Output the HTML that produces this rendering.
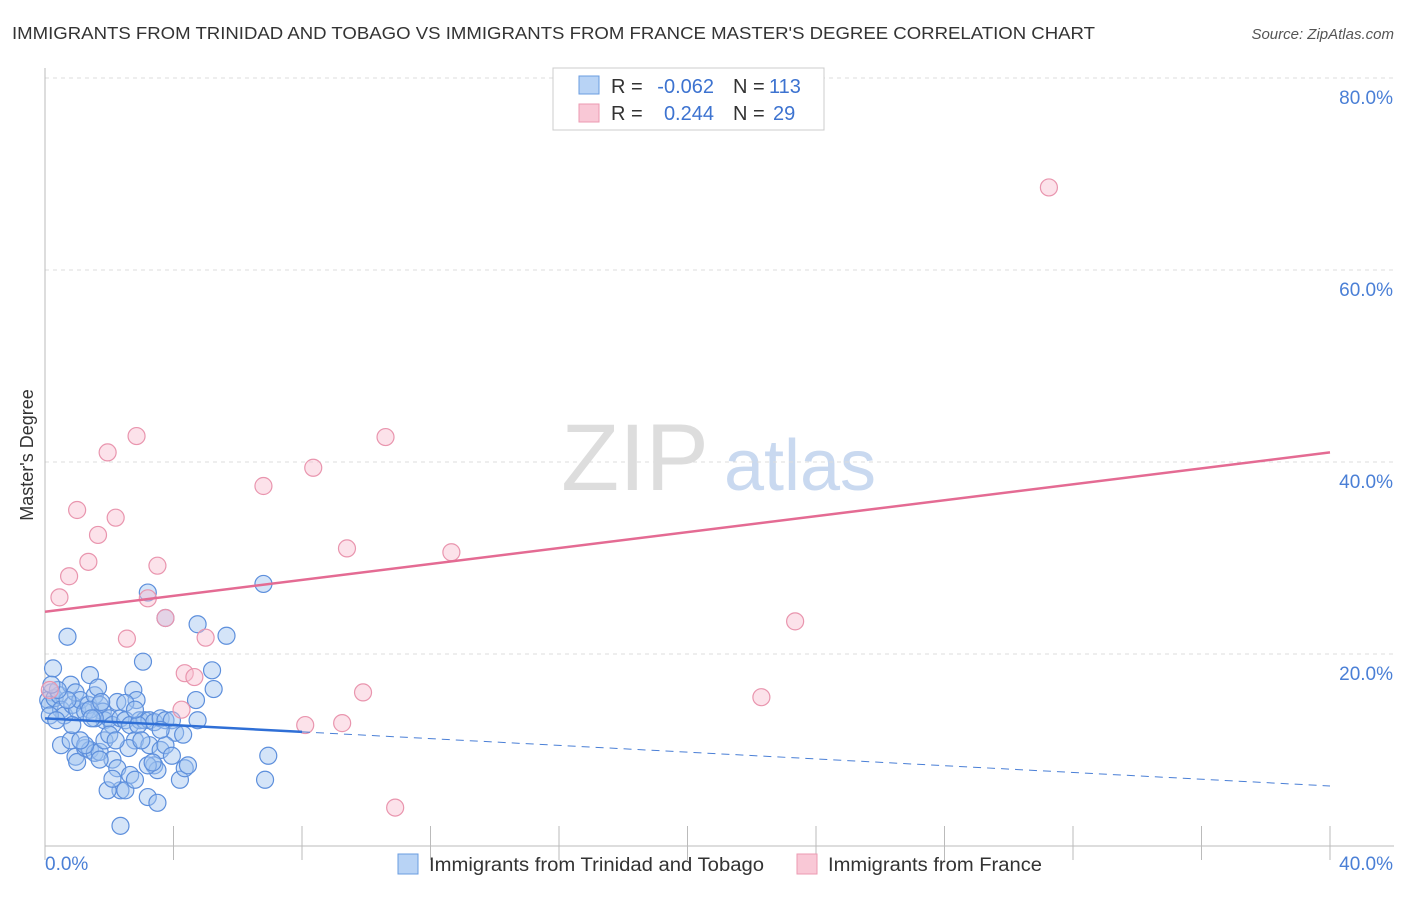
<!DOCTYPE html>
<html><head><meta charset="utf-8"><style>
body{margin:0;background:#fff;font-family:"Liberation Sans",sans-serif}
svg text{font-family:"Liberation Sans",sans-serif}
</style></head><body>
<svg id="c" width="1406" height="892" xmlns="http://www.w3.org/2000/svg">
<text x="12" y="39" font-size="17.5" fill="#333" textLength="1083" lengthAdjust="spacingAndGlyphs">IMMIGRANTS FROM TRINIDAD AND TOBAGO VS IMMIGRANTS FROM FRANCE MASTER'S DEGREE CORRELATION CHART</text>
<text x="1394" y="39" font-size="15" fill="#555" font-style="italic" text-anchor="end">Source: ZipAtlas.com</text>
<g><text x="635" y="490" font-size="95" fill="#ddd" font-family="Liberation Serif" text-anchor="middle">ZIP</text><text x="800" y="490" font-size="72" fill="#c9d9f0" text-anchor="middle">atlas</text></g>
<g id="grid"></g><g id="axes"></g><g id="pts"></g><g id="lines"></g>
<text transform="translate(33,455) rotate(-90)" font-size="18" fill="#333" text-anchor="middle">Master's Degree</text>
<g>
<rect x="553" y="68" width="271" height="62" fill="#fff" stroke="#ccc"/>
<rect x="579" y="76" width="20" height="18" fill="#b8d3f5" stroke="#6a9de0"/>
<rect x="579" y="104" width="20" height="18" fill="#f9c8d6" stroke="#ec9ab2"/>
<text x="611" y="93" font-size="20" fill="#333">R =</text>
<text x="714" y="93" font-size="20" fill="#3d73d0" text-anchor="end">-0.062</text>
<text x="733" y="93" font-size="20" fill="#333">N =</text>
<text x="769" y="93" font-size="20" fill="#3d73d0">113</text>
<text x="611" y="120" font-size="20" fill="#333">R =</text>
<text x="714" y="120" font-size="20" fill="#3d73d0" text-anchor="end">0.244</text>
<text x="733" y="120" font-size="20" fill="#333">N =</text>
<text x="773" y="120" font-size="20" fill="#3d73d0">29</text>
</g>
<g>
<rect x="398" y="854" width="20" height="20" fill="#b8d3f5" stroke="#6a9de0"/>
<text x="429" y="871" font-size="19" fill="#333" textLength="335" lengthAdjust="spacingAndGlyphs">Immigrants from Trinidad and Tobago</text>
<rect x="797" y="854" width="20" height="20" fill="#f9c8d6" stroke="#ec9ab2"/>
<text x="828" y="871" font-size="19" fill="#333" textLength="214" lengthAdjust="spacingAndGlyphs">Immigrants from France</text>
</g>
</svg>
<script>
const blueX=[0.25,0.7,0.2,0.1,0.15,0.3,0.45,0.5,0.6,0.8,0.85,0.95,1.0,1.1,1.25,1.35,1.4,1.55,1.65,1.7,1.8,1.85,2.0,2.1,2.25,2.35,2.5,2.65,2.75,2.85,2.95,3.1,3.25,3.4,3.6,3.75,3.95,4.05,3.05,3.2,3.75,4.75,5.65,5.2,5.25,4.7,4.75,6.8,6.95,6.85,0.5,0.8,0.95,1.0,1.25,1.4,1.55,1.7,1.85,2.0,2.1,2.25,2.35,2.5,2.65,2.8,3.25,3.4,3.5,3.6,3.75,3.95,4.2,4.35,4.45,2.6,2.8,3.2,3.5,2.35,1.7,1.25,0.85,0.7,1.4,1.55,2.2,2.9,3.6,1.95,2.1,4.3,3.2,3.35,0.15,0.35,0.4,0.2,1.1,1.45,1.75,2.5,2.8,3.0];
const blueY=[18.5,21.8,16.0,15.2,14.7,15.4,15.7,14.2,13.6,16.8,14.7,16.0,14.2,15.2,14.0,14.7,17.8,15.7,16.5,14.7,14.0,13.1,13.3,12.6,15.0,13.3,13.1,12.6,16.25,15.2,13.1,13.1,13.1,12.9,13.3,13.1,13.1,11.8,19.2,26.4,23.75,23.1,21.9,18.3,16.35,15.2,13.1,27.3,9.4,6.9,10.5,11.0,9.3,8.75,10.2,10.0,9.7,9.8,11.0,11.6,9.0,8.1,5.8,5.8,7.4,11.0,10.5,8.4,7.9,10.0,10.5,9.4,6.9,8.1,8.4,10.2,6.9,5.1,4.5,2.1,9.0,10.5,12.6,15.2,14.2,13.3,11.0,12.6,12.1,5.8,7.0,11.6,8.4,8.7,13.6,13.1,16.25,16.8,11.0,13.3,15.0,14.9,14.2,11.0];
const pinkX=[0.45,0.75,1.0,1.35,1.65,1.95,2.2,2.85,2.55,3.2,3.5,3.75,4.35,4.65,4.25,5.0,6.8,8.35,9.4,8.1,9.25,9.9,10.6,12.65,10.9,22.3,23.35,31.25,0.15];
const pinkY=[25.9,28.1,35,29.6,32.4,41,34.2,42.7,21.6,25.8,29.2,23.75,18.0,17.6,14.2,21.7,37.5,39.4,31.0,12.6,12.8,16.0,42.6,30.6,4.0,15.5,23.4,68.6,16.25];
const blueTrend=[13.3,6.25], blueSolidEnd=8, pinkTrend=[24.4,41.0];
const yTicks=[20,40,60,80], yTickLabels=["20.0%","40.0%","60.0%","80.0%"];
const xTicks=[0,4,8,12,16,20,24,28,32,36,40];
const NS="http://www.w3.org/2000/svg";
const X=v=>45+v*32.125, Y=v=>846-v*9.6;
function mk(p,t,a){const e=document.createElementNS(NS,t);for(const k in a)e.setAttribute(k,a[k]);document.getElementById(p).appendChild(e);return e;}
yTicks.forEach((t,i)=>{
 const g=mk('grid','line',{x1:45,x2:1394,y1:Y(t),y2:Y(t),stroke:'#ddd','stroke-dasharray':'4,4'});
 
 
 const l=mk('grid','text',{x:1393,y:Y(t)+26,'font-size':19,fill:'#4a7fd6','text-anchor':'end'});
 l.textContent=yTickLabels[i];
 
 
});
const ax=mk('axes','line',{x1:45,x2:45,y1:68,y2:846,stroke:'#bbb'});


const bx=mk('axes','line',{x1:45,x2:1394,y1:846,y2:846,stroke:'#bbb'});


xTicks.forEach(t=>{const e=mk('axes','line',{x1:X(t),x2:X(t),y1:826,y2:860,stroke:'#bbb'});
 
 });
const x0=mk('axes','text',{x:45,y:870,'font-size':19,fill:'#4a7fd6'});x0.textContent='0.0%';


const x1=mk('axes','text',{x:1393,y:870,'font-size':19,fill:'#4a7fd6','text-anchor':'end'});x1.textContent='40.0%';


blueX.forEach((v,i)=>{const c=mk('pts','circle',{cx:X(v),cy:Y(blueY[i]),r:8.5,fill:'rgba(160,195,240,0.45)',stroke:'#5d8fdc','stroke-width':1.2});
 
 });
pinkX.forEach((v,i)=>{const c=mk('pts','circle',{cx:X(v),cy:Y(pinkY[i]),r:8.5,fill:'rgba(248,190,208,0.45)',stroke:'#e995ae','stroke-width':1.2});
 
 });
const bf=v=>blueTrend[0]+(blueTrend[1]-blueTrend[0])*v/40;
const b1=mk('lines','line',{x1:X(0),y1:Y(bf(0)),x2:X(blueSolidEnd),y2:Y(bf(blueSolidEnd)),stroke:'#2f6fd6','stroke-width':2.5});


const b2=mk('lines','line',{x1:X(blueSolidEnd),y1:Y(bf(blueSolidEnd)),x2:X(40),y2:Y(bf(40)),stroke:'#4a7fd6','stroke-width':1,'stroke-dasharray':'8,6'});


const p1=mk('lines','line',{x1:X(0),y1:Y(pinkTrend[0]),x2:X(40),y2:Y(pinkTrend[1]),stroke:'#e46b93','stroke-width':2.5});


</script>
</body></html>
